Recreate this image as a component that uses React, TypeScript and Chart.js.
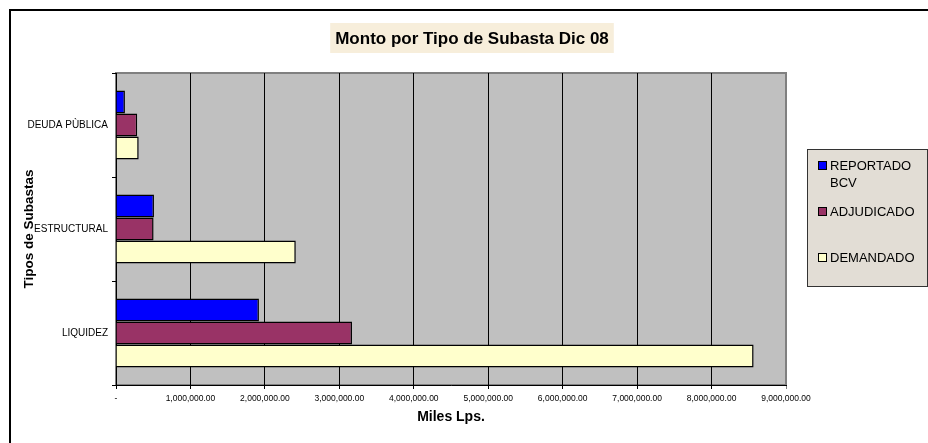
import React, { useEffect, useRef } from "react";
import { Chart, registerables } from "chart.js";

Chart.register(...registerables);

const title = "Monto por Tipo de Subasta Dic 08";
const categories = ["DEUDA PÙBLICA", "ESTRUCTURAL", "LIQUIDEZ"];
const seriesNames = ["REPORTADO BCV", "ADJUDICADO", "DEMANDADO"];
const legendLines = [["REPORTADO", "BCV"], ["ADJUDICADO"], ["DEMANDADO"]];
const reportado = [120000, 510000, 1920000];
const adjudicado = [285000, 505000, 3170000];
const demandado = [305000, 2415000, 8565000];
const seriesColors = ["#0000FF", "#993366", "#FFFFCC"];
const xMax = 9000000;
const xStep = 1000000;
const xTitle = "Miles Lps.";
const yTitle = "Tipos de Subastas";

const FONT = "'Liberation Sans', Arial, sans-serif";

const decorPlugin = {
  id: "decor",
  beforeDraw(chart: any) {
    const { ctx, chartArea: a, width, height } = chart;
    ctx.save();
    ctx.fillStyle = "#ffffff";
    ctx.fillRect(0, 0, width, height);
    // outer border
    ctx.strokeStyle = "#000000";
    ctx.lineWidth = 2;
    ctx.strokeRect(10, 10, width + 40, height + 40);
    // plot area
    ctx.fillStyle = "#c0c0c0";
    ctx.fillRect(a.left, a.top, a.right - a.left, a.bottom - a.top);
    ctx.strokeStyle = "#808080";
    ctx.lineWidth = 2;
    ctx.strokeRect(a.left, a.top, a.right - a.left, a.bottom - a.top);
    // title box
    ctx.font = `bold 17px ${FONT}`;
    const tw = ctx.measureText(title).width;
    const cx = 472;
    ctx.fillStyle = "#f7eedb";
    ctx.fillRect(cx - tw / 2 - 5, 23, tw + 10, 30);
    ctx.fillStyle = "#000";
    ctx.textAlign = "center";
    ctx.textBaseline = "middle";
    ctx.fillText(title, cx, 39);
    ctx.restore();
  },
  afterDraw(chart: any) {
    const { ctx } = chart;
    ctx.save();
    // legend box
    const lx = 807, ly = 149, lw = 121, lh = 138;
    ctx.fillStyle = "#e2ddd5";
    ctx.fillRect(lx, ly, lw, lh);
    ctx.strokeStyle = "#333";
    ctx.lineWidth = 1;
    ctx.strokeRect(lx + 0.5, ly + 0.5, lw - 1, lh - 1);
    ctx.font = `13px ${FONT}`;
    ctx.textAlign = "left";
    ctx.textBaseline = "alphabetic";
    const ys = [169, 215, 261];
    chart.data.datasets.forEach((ds: any, i: number) => {
      const y = ys[i];
      ctx.fillStyle = ds.backgroundColor;
      ctx.fillRect(818, y - 8, 9, 9);
      ctx.strokeStyle = "#000";
      ctx.strokeRect(818.5, y - 7.5, 8, 8);
      ctx.fillStyle = "#000";
      legendLines[i].forEach((t, j) => ctx.fillText(t, 830, y + 1 + j * 17));
    });
    ctx.restore();
  },
};

export default function App() {
  const ref = useRef<HTMLCanvasElement>(null);
  useEffect(() => {
    const values = [reportado, adjudicado, demandado];
    const chart = new Chart(ref.current!, {
      type: "bar",
      data: {
        labels: categories,
        datasets: seriesNames.map((n, i) => ({
          label: n,
          data: values[i],
          backgroundColor: seriesColors[i],
          borderColor: "#000000",
          borderWidth: 1.5,
          barPercentage: 1,
          categoryPercentage: 0.665,
        })),
      },
      options: {
        indexAxis: "y",
        responsive: false,
        animation: false,
        layout: { padding: { top: 73, right: 142, left: 0, bottom: 0 } },
        plugins: {
          legend: { display: false },
          title: { display: false },
          tooltip: { enabled: false },
        },
        scales: {
          x: {
            min: 0,
            max: xMax,
            afterFit: (s: any) => { s.height = 58; },
            ticks: {
              stepSize: xStep,
              color: "#000",
              padding: 5,
              maxRotation: 0,
              autoSkip: false,
              font: { family: FONT, size: 8.5 },
              callback: (v: any) =>
                Number(v) === 0
                  ? "-"
                  : Number(v).toLocaleString("en-US", { minimumFractionDigits: 2, maximumFractionDigits: 2 }),
            },
            grid: {
              color: (c: any) => (c.tick && c.tick.value === xMax ? "#808080" : "#000000"),
              lineWidth: 1,
              tickLength: 4,
              drawOnChartArea: true,
              drawTicks: true,
            },
            border: { color: "#000", width: 1 },
            title: {
              display: true,
              text: xTitle,
              color: "#000",
              font: { family: FONT, size: 14, weight: "bold" },
              padding: { top: 0, bottom: 17 },
            },
          },
          y: {
            afterFit: (s: any) => { s.width = 116; },
            ticks: {
              color: "#000",
              padding: 4,
              font: { family: FONT, size: 10 },
            },
            grid: {
              offset: true,
              drawOnChartArea: false,
              color: "#000",
              tickLength: 4,
            },
            border: { color: "#000", width: 1 },
            title: {
              display: true,
              text: yTitle,
              color: "#000",
              font: { family: FONT, size: 13.5, weight: "bold" },
              padding: { top: 21, bottom: 0 },
            },
          },
        },
      },
      plugins: [decorPlugin],
    });
    return () => chart.destroy();
  }, []);
  return (
    <canvas
      ref={ref}
      width={928}
      height={443}
      style={{ position: "absolute", left: 0, top: 0, display: "block" }}
    />
  );
}
